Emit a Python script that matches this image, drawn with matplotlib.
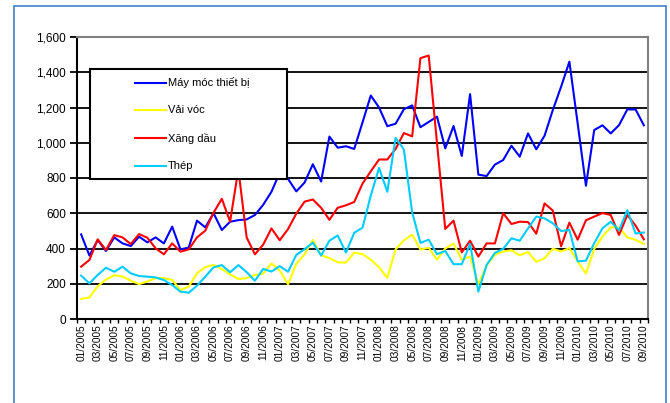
import numpy as np
import matplotlib
matplotlib.use("Agg")
import matplotlib.pyplot as plt
from matplotlib.patches import Rectangle
from matplotlib.ticker import FuncFormatter

plt.rcParams['font.family'] = ['Liberation Sans', 'DejaVu Sans']

# months 01/2005 .. 09/2010
months = [f"{m:02d}/{y}" for y in range(2005, 2011) for m in range(1, 13)][:69]

may_moc = [480, 360, 448, 386, 463, 429, 414, 467, 435, 463,
           429, 524, 395, 405, 558, 520, 600, 505, 552, 561,
           565, 590, 648, 722, 830, 795, 724, 774, 878, 780,
           1035, 972, 980, 965, 1115, 1268, 1200, 1094, 1108, 1190,
           1212, 1088, 1118, 1148, 968, 1095, 925, 1276, 819, 811,
           876, 902, 983, 921, 1053, 963, 1040, 1186, 1318, 1460,
           1110, 756, 1072, 1099, 1053, 1100, 1189, 1189, 1099]
vai_voc = [114, 122, 186, 224, 248, 241, 217, 198, 213, 232,
           232, 222, 164, 184, 260, 294, 307, 283, 253, 227,
           232, 250, 257, 315, 275, 197, 313, 367, 448, 361,
           346, 322, 320, 376, 368, 337, 294, 233, 395, 446,
           479, 394, 404, 337, 400, 428, 336, 355, 198, 303,
           364, 383, 390, 361, 381, 324, 345, 399, 383, 402,
           327, 258, 397, 468, 520, 520, 463, 449, 426]
xang_dau = [297, 335, 452, 391, 476, 463, 425, 482, 461, 401,
            367, 429, 382, 395, 463, 501, 603, 682, 552, 850,
            463, 367, 422, 514, 447, 510, 598, 666, 678, 631,
            563, 631, 645, 664, 768, 838, 905, 905, 965, 1055,
            1036, 1480, 1495, 1000, 511, 558, 378, 444, 354, 429,
            429, 600, 539, 552, 550, 484, 656, 615, 412, 547,
            450, 560, 581, 601, 590, 477, 590, 530, 452]
thep = [246, 202, 250, 291, 268, 297, 259, 244, 240, 236,
        221, 193, 155, 149, 189, 240, 293, 306, 265, 306,
        266, 217, 284, 269, 300, 268, 364, 396, 433, 360,
        444, 474, 377, 489, 518, 700, 857, 722, 1028, 962,
        605, 432, 450, 368, 386, 311, 311, 427, 155, 307,
        375, 398, 458, 444, 514, 581, 571, 543, 499, 505,
        327, 331, 430, 515, 552, 503, 618, 485, 491]

series = [
    ("Máy móc thiết bị", may_moc, "#0000FF"),
    ("Vải vóc", vai_voc, "#FFFF00"),
    ("Xăng dầu", xang_dau, "#FF0000"),
    ("Thép", thep, "#00CCFF"),
]

fig = plt.figure(figsize=(6.7, 4.03), dpi=100)
ax = fig.add_axes([77 / 670, 84 / 403, 571 / 670, 282 / 403])

x = np.arange(len(months))
for name, vals, col in series:
    ax.plot(x, vals, color=col, lw=1.5, zorder=3)

ax.set_xlim(-0.5, len(months) - 0.5)
ax.set_ylim(0, 1600)
ax.set_yticks(range(0, 1601, 200))
ax.yaxis.set_major_formatter(FuncFormatter(lambda v, p: f"{int(v):,}"))
for v in range(200, 1600, 200):
    ax.axhline(v, color="black", lw=1.3, zorder=1)

ax.set_xticks(x[::2])
ax.set_xticklabels(months[::2], rotation=90, fontsize=7.3)
ax.set_xticks(np.arange(-0.5, len(months)), minor=True)
ax.tick_params(axis="x", which="major", length=0, pad=4)
ax.tick_params(axis="x", which="minor", length=3, width=1, direction="out")
ax.tick_params(axis="y", length=5, width=1.3, labelsize=8.5, pad=3)

for s in ("left", "bottom"):
    ax.spines[s].set_color("black")
    ax.spines[s].set_linewidth(1.5)
for s in ("top", "right"):
    ax.spines[s].set_color("#808080")
    ax.spines[s].set_linewidth(1.5)

# legend box drawn by hand to match the Excel layout
lx0, lx1 = (90 - 77) / 571, (287 - 77) / 571
ly0, ly1 = (319 - 179) / 282, (319 - 69) / 282
ax.add_patch(Rectangle((lx0, ly0), lx1 - lx0, ly1 - ly0, transform=ax.transAxes,
                       facecolor="white", edgecolor="black", lw=1.5, zorder=5))
ys = [(319 - y) / 282 for y in (82.5, 110, 138, 166)]
for (name, vals, col), yy in zip(series, ys):
    ax.plot([(135 - 77) / 571, (166 - 77) / 571], [yy, yy], color=col, lw=1.5,
            transform=ax.transAxes, zorder=6, clip_on=False)
    ax.text((168 - 77) / 571, yy, name, transform=ax.transAxes, fontsize=8,
            va="center", ha="left", zorder=6)

fig.patches.append(Rectangle((14 / 670, -0.02), 652 / 670, 1 - 6 / 403 + 0.02,
                             transform=fig.transFigure, fill=False,
                             edgecolor="#3C82C8", lw=1.2))

fig.savefig("out.png", dpi=100)
